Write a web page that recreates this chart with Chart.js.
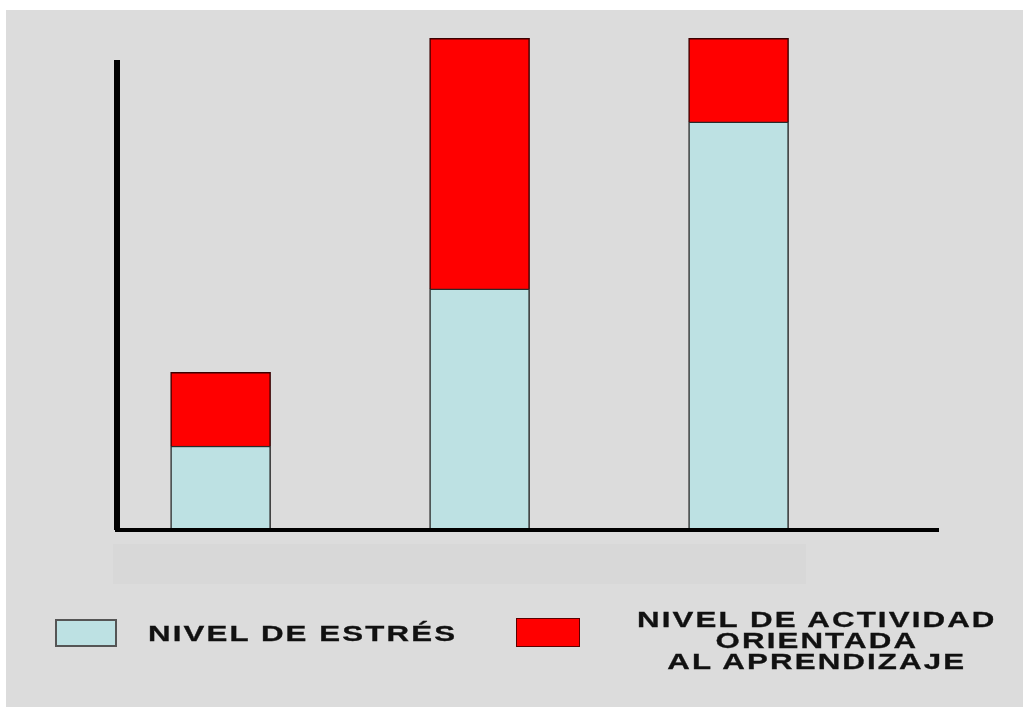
<!DOCTYPE html>
<html lang="es">
<head>
<meta charset="utf-8">
<title>Nivel de estrés y actividad</title>
<script src="https://cdn.jsdelivr.net/npm/chart.js@4.4.1/dist/chart.umd.min.js"></script>
<style>
  html, body {
    margin: 0;
    padding: 0;
    width: 1023px;
    height: 707px;
    overflow: hidden;
    background: #ffffff;
    font-family: "Liberation Sans", Arial, sans-serif;
  }
  #panel {
    position: absolute;
    left: 6px;
    top: 10px;
    right: 0;
    bottom: 0;
    background: #dcdcdc;
  }
  /* franja mas clara debajo del eje */
  #franja {
    position: absolute;
    left: 113px;
    top: 544px;
    width: 693px;
    height: 40px;
    background: #d8d8d8;
  }
  #grafico {
    position: absolute;
    left: 0;
    top: 0;
  }
  .caja {
    position: absolute;
    box-sizing: border-box;
  }
  .texto {
    position: absolute;
    font-weight: bold;
    font-size: 22px;
    line-height: 21px;
    color: #111;
    letter-spacing: 1.5px;
    white-space: nowrap;
    -webkit-text-stroke: 0.3px #111;
  }
</style>
</head>
<body>
<div id="panel"></div>
<div id="franja"></div>
<canvas id="grafico" width="1023" height="707"></canvas>
<div id="leyenda"></div>

<script>
// Datos ---------------------------------- { Data }
const posiciones = [1, 2, 3];
const nivelEstres = [17, 49, 83];
const nivelActividad = [15, 51, 17];
const etiquetas = [
  ["NIVEL DE ESTRÉS"],
  ["NIVEL DE ACTIVIDAD", "ORIENTADA", "AL APRENDIZAJE"],
];
const colores = ["#bde1e3", "#ff0000"];

const serie = (valores) =>
  posiciones.map((x, i) => {
    return { x: x, y: valores[i] };
  });

// Chart ---------------------------------- { Chart }
const ctx = document.getElementById("grafico").getContext("2d");
const grafico = new Chart(ctx, {
  type: "bar",
  data: {
    datasets: [
      {
        label: etiquetas[0].join(" "),
        data: serie(nivelEstres),
        backgroundColor: colores[0],
        borderColor: "#2a2a2a",
        borderWidth: 1.5,
        barThickness: 100,
        clip: false,
      },
      {
        label: etiquetas[1].join(" "),
        data: serie(nivelActividad),
        backgroundColor: colores[1],
        borderColor: "#3a0000",
        borderWidth: 1.5,
        barThickness: 100,
        clip: false,
      },
    ],
  },
  options: {
    responsive: false,
    animation: false,
    layout: {
      padding: { left: 117, top: 63, right: 85, bottom: 177.5 },
    },
    scales: {
      x: {
        type: "linear",
        min: 0.6,
        max: 3.77,
        stacked: true,
        offset: false,
        ticks: { display: false },
        grid: { display: false, drawTicks: false },
        border: { display: true, color: "#000", width: 4, z: 1 },
        afterFit: (scale) => {
          scale.height = 0;
        },
      },
      y: {
        min: 0,
        max: 95,
        stacked: true,
        ticks: { display: false },
        grid: { display: false, drawTicks: false },
        border: { display: true, color: "#000", width: 6, z: 1 },
        afterFit: (scale) => {
          scale.width = 0;
        },
      },
    },
    plugins: {
      // Remove legend
      legend: { display: false },
      // Remove tooltips
      tooltip: { enabled: false },
    },
  },
});

// Leyenda ---------------------------------- { Legend }
const leyenda = document.getElementById("leyenda");
leyenda.innerHTML = `
  <div class="caja" style="left:55px;top:619px;width:62px;height:28px;background:${colores[0]};border:2px solid #555;"></div>
  <div class="texto" style="left:148px;top:623px;transform:scaleX(1.42);transform-origin:left center;">${etiquetas[0].join("<br>")}</div>
  <div class="caja" style="left:516px;top:618px;width:64px;height:29px;background:${colores[1]};border:1.5px solid #5a0000;"></div>
  <div class="texto" style="left:675px;top:609px;width:280px;text-align:center;padding-left:1.5px;transform:scaleX(1.42);transform-origin:center center;">${etiquetas[1].join("<br>")}</div>
`;
</script>
</body>
</html>
